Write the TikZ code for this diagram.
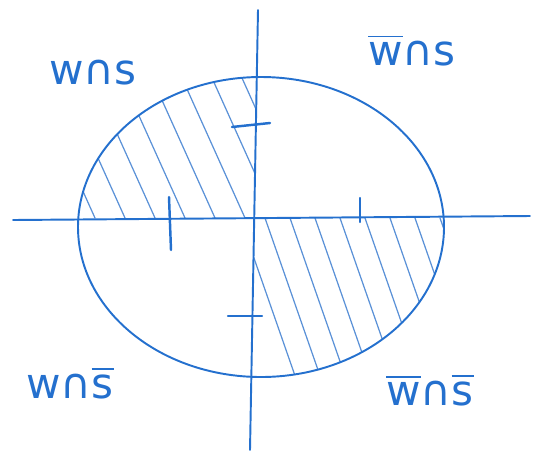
\documentclass[tikz,border=0pt]{standalone}
\usepackage{amsmath}
\usepackage{fontspec}
\setmainfont{DejaVu Sans}
\usetikzlibrary{positioning}
\definecolor{inkblue}{RGB}{36,112,206}
\definecolor{hatchblue}{RGB}{90,145,215}
\tikzset{
  pen/.style={inkblue, line width=1.1pt, line cap=round},
  hatch/.style={hatchblue, line width=0.7pt, line cap=round},
  tickmark/.style={inkblue, line width=1.4pt, line cap=round},
  setlabel/.style={inkblue, font=\fontsize{24}{28}\selectfont, inner sep=0pt}
}
\begin{document}
\begin{tikzpicture}[x=0.02cm, y=-0.02cm]
  \useasboundingbox (0,0) rectangle (540,457);

  % Hatched quadrants
  \begin{scope}
    \clip (261,227) ellipse (183 and 150);
    \clip (60,60) -- (256.5,60) -- (254.2,218.1) -- (60,220) -- cycle;
    \foreach \s in {95,125,155,185,215,245,275,305}
      \draw[hatch] (\s-90,18) -- (\s,218);
  \end{scope}
  \begin{scope}
    \clip (261,227) ellipse (183 and 150);
    \clip (254.2,218.1) -- (460,214.5) -- (460,390) -- (251.3,390) -- cycle;
    \foreach \s in {240,265,290,315,340,365,390,415,440}
      \draw[hatch] (\s,218) -- (\s+60,390);
  \end{scope}

  % Ellipse and axes
  \draw[pen] (261,227) ellipse (183 and 150);
  \coordinate (xl) at (13,220);
  \coordinate (xr) at (530,216);
  \coordinate (yt) at (258,10);
  \coordinate (yb) at (250,450);
  \draw[pen] (xl) -- (xr);
  \draw[pen] (yt) -- (yb);

  % Tick marks
  \draw[tickmark] (232,127) -- (270,123);
  \draw[tickmark] (228,316) -- (262,316);
  \draw[tickmark] (169,197) -- (171,250);
  \draw[tickmark] (360,198) -- (360,222);

  % Region labels
  \node[setlabel] (ws)   at (93,73)   {w∩s};
  \node[setlabel] (nws)  at (412,50)  {$\overline{\text{w}}$∩s};
  \node[setlabel] (wns)  at (70,383)  {w∩$\overline{\text{s}}$};
  \node[setlabel] (nwns) at (430,390) {$\overline{\text{w}}$∩$\overline{\text{s}}$};
\end{tikzpicture}
\end{document}
